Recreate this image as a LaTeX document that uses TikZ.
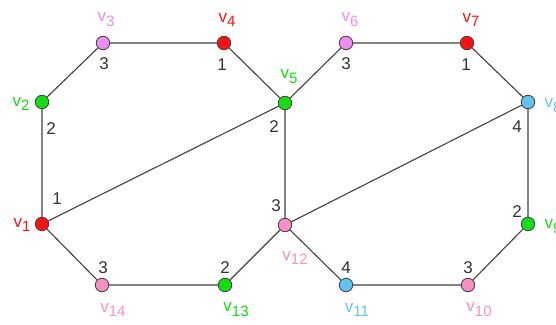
\documentclass[tikz,border=0pt]{standalone}
\usepackage{fontspec}
\setmainfont{Liberation Sans}
\definecolor{cred}{HTML}{FF1010}
\definecolor{cgreen}{HTML}{10E010}
\definecolor{cviolet}{HTML}{F08CF0}
\definecolor{cpink}{HTML}{F490C4}
\definecolor{cblue}{HTML}{60C4F0}
\newcommand\vlab[1]{v\raisebox{-0.55ex}{\fontsize{15}{15}\selectfont #1}}
\tikzset{
  vert/.style={circle,draw=black!75,line width=0.8pt,minimum size=13.5pt,inner sep=0pt},
  vname/.style={font=\fontsize{17}{17}\selectfont,inner sep=0pt},
  deg/.style={font=\fontsize{17}{17}\selectfont,text=black!80,inner sep=0pt},
  edge/.style={draw=black!75,line width=1.1pt}
}
\begin{document}
\begin{tikzpicture}[x=1pt,y=-1pt]
\useasboundingbox (0,0) rectangle (556,324);
\node[vert,fill=cred]    (v1)  at (42,224) {};
\node[vert,fill=cgreen]  (v2)  at (42,102) {};
\node[vert,fill=cviolet] (v3)  at (103,43) {};
\node[vert,fill=cred]    (v4)  at (224,43) {};
\node[vert,fill=cgreen]  (v5)  at (285,103) {};
\node[vert,fill=cviolet] (v6)  at (346,43) {};
\node[vert,fill=cred]    (v7)  at (467,43) {};
\node[vert,fill=cblue]   (v8)  at (528,102) {};
\node[vert,fill=cgreen]  (v9)  at (528,224) {};
\node[vert,fill=cpink]   (v10) at (468,285) {};
\node[vert,fill=cblue]   (v11) at (346,285) {};
\node[vert,fill=cpink]   (v12) at (285,225) {};
\node[vert,fill=cgreen]  (v13) at (225,285) {};
\node[vert,fill=cpink]   (v14) at (102,285) {};
\draw[edge] (v1)--(v2) (v2)--(v3) (v3)--(v4) (v4)--(v5) (v5)--(v6) (v6)--(v7)
  (v7)--(v8) (v8)--(v9) (v9)--(v10) (v10)--(v11) (v11)--(v12) (v12)--(v13)
  (v13)--(v14) (v14)--(v1) (v1)--(v5) (v5)--(v12) (v12)--(v8);
% names
\node[vname,text=cred]    (n1)  at (22,225) {\vlab{1}};
\node[vname,text=cgreen]  (n2)  at (21,104) {\vlab{2}};
\node[vname,text=cviolet] (n3)  at (106,20) {\vlab{3}};
\node[vname,text=cred]    (n4)  at (227,20) {\vlab{4}};
\node[vname,text=cgreen]  (n5)  at (289,77) {\vlab{5}};
\node[vname,text=cviolet] (n6)  at (350,20) {\vlab{6}};
\node[vname,text=cred]    (n7)  at (471,20) {\vlab{7}};
\node[vname,text=cblue]   (n8)  at (553,106) {\vlab{8}};
\node[vname,text=cgreen]  (n9)  at (553,227) {\vlab{9}};
\node[vname,text=cpink]   (n10) at (479,310) {\vlab{10}};
\node[vname,text=cblue]   (n11) at (357,310) {\vlab{11}};
\node[vname,text=cpink]   (n12) at (295,258) {\vlab{12}};
\node[vname,text=cgreen]  (n13) at (236,310) {\vlab{13}};
\node[vname,text=cpink]   (n14) at (113,310) {\vlab{14}};
% degrees
\node[deg] (d1)  at (57,199) {1};
\node[deg] (d2)  at (51,129) {2};
\node[deg] (d3)  at (104,64) {3};
\node[deg] (d4)  at (222,65) {1};
\node[deg] (d5)  at (274,127) {2};
\node[deg] (d6)  at (346,64) {3};
\node[deg] (d7)  at (466,65) {1};
\node[deg] (d8)  at (517,127) {4};
\node[deg] (d9)  at (517,212) {2};
\node[deg] (d10) at (468,268) {3};
\node[deg] (d11) at (346,268) {4};
\node[deg] (d12) at (276,206) {3};
\node[deg] (d13) at (225,268) {2};
\node[deg] (d14) at (103,268) {3};
\end{tikzpicture}
\end{document}
